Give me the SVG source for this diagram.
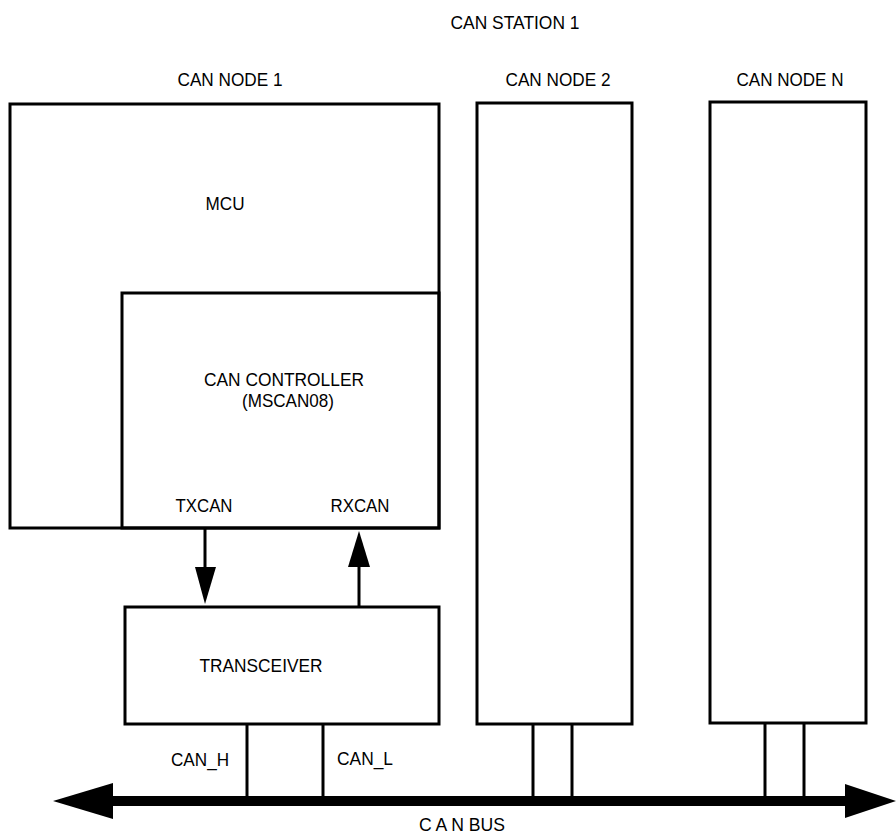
<svg xmlns="http://www.w3.org/2000/svg" width="896" height="835" viewBox="0 0 896 835">
<style>
.b{fill:none;stroke:#000;stroke-width:3}
.l{stroke:#000;stroke-width:3;fill:none}
text{font-family:"Liberation Sans",Arial,sans-serif;font-size:19px;fill:#000;text-anchor:middle}
</style>
<rect width="896" height="835" fill="#fff"/>
<text x="515" y="29" textLength="129" lengthAdjust="spacingAndGlyphs">CAN STATION 1</text>
<g id="node1">
<text x="230" y="86" textLength="105" lengthAdjust="spacingAndGlyphs">CAN NODE 1</text>
<rect class="b" x="10" y="104" width="429" height="424"/>
<text x="225" y="210" textLength="39" lengthAdjust="spacingAndGlyphs">MCU</text>
</g>
<g id="controller">
<rect class="b" x="122" y="293" width="317" height="235"/>
<text x="284" y="386" textLength="160" lengthAdjust="spacingAndGlyphs">CAN CONTROLLER</text>
<text x="288" y="407" textLength="92" lengthAdjust="spacingAndGlyphs">(MSCAN08)</text>
<text x="204" y="512" textLength="57" lengthAdjust="spacingAndGlyphs">TXCAN</text>
<text x="360" y="512" textLength="59" lengthAdjust="spacingAndGlyphs">RXCAN</text>
</g>
<g id="transceiver">
<rect class="b" x="125" y="607" width="314" height="117"/>
<text x="261" y="672" textLength="123" lengthAdjust="spacingAndGlyphs">TRANSCEIVER</text>
</g>
<g id="node2">
<text x="558" y="86" textLength="105" lengthAdjust="spacingAndGlyphs">CAN NODE 2</text>
<rect class="b" x="477" y="103" width="155" height="621"/>
</g>
<g id="nodeN">
<text x="790" y="86" textLength="107" lengthAdjust="spacingAndGlyphs">CAN NODE N</text>
<rect class="b" x="710" y="102" width="156" height="621"/>
</g>
<g id="connectors">
<line class="l" x1="205" y1="529" x2="205" y2="570"/>
<polygon points="195,567 216,567 205,604"/>
<line class="l" x1="359" y1="564" x2="359" y2="607"/>
<polygon points="348,567 370,567 359,531"/>
<line class="l" x1="247" y1="724" x2="247" y2="800"/>
<line class="l" x1="323" y1="724" x2="323" y2="800"/>
<line class="l" x1="533" y1="724" x2="533" y2="800"/>
<line class="l" x1="572" y1="724" x2="572" y2="800"/>
<line class="l" x1="765" y1="723" x2="765" y2="800"/>
<line class="l" x1="804" y1="723" x2="804" y2="800"/>
<line x1="110" y1="801" x2="848" y2="801" stroke="#000" stroke-width="10"/>
<polygon points="53,801 113,783 113,819"/>
<polygon points="896,801 845,784 845,818"/>
<text x="200" y="766" textLength="58" lengthAdjust="spacingAndGlyphs">CAN_H</text>
<text x="365" y="765" textLength="56" lengthAdjust="spacingAndGlyphs">CAN_L</text>
<text x="462" y="831" textLength="86" lengthAdjust="spacingAndGlyphs">C A N BUS</text>
</g>
</svg>
